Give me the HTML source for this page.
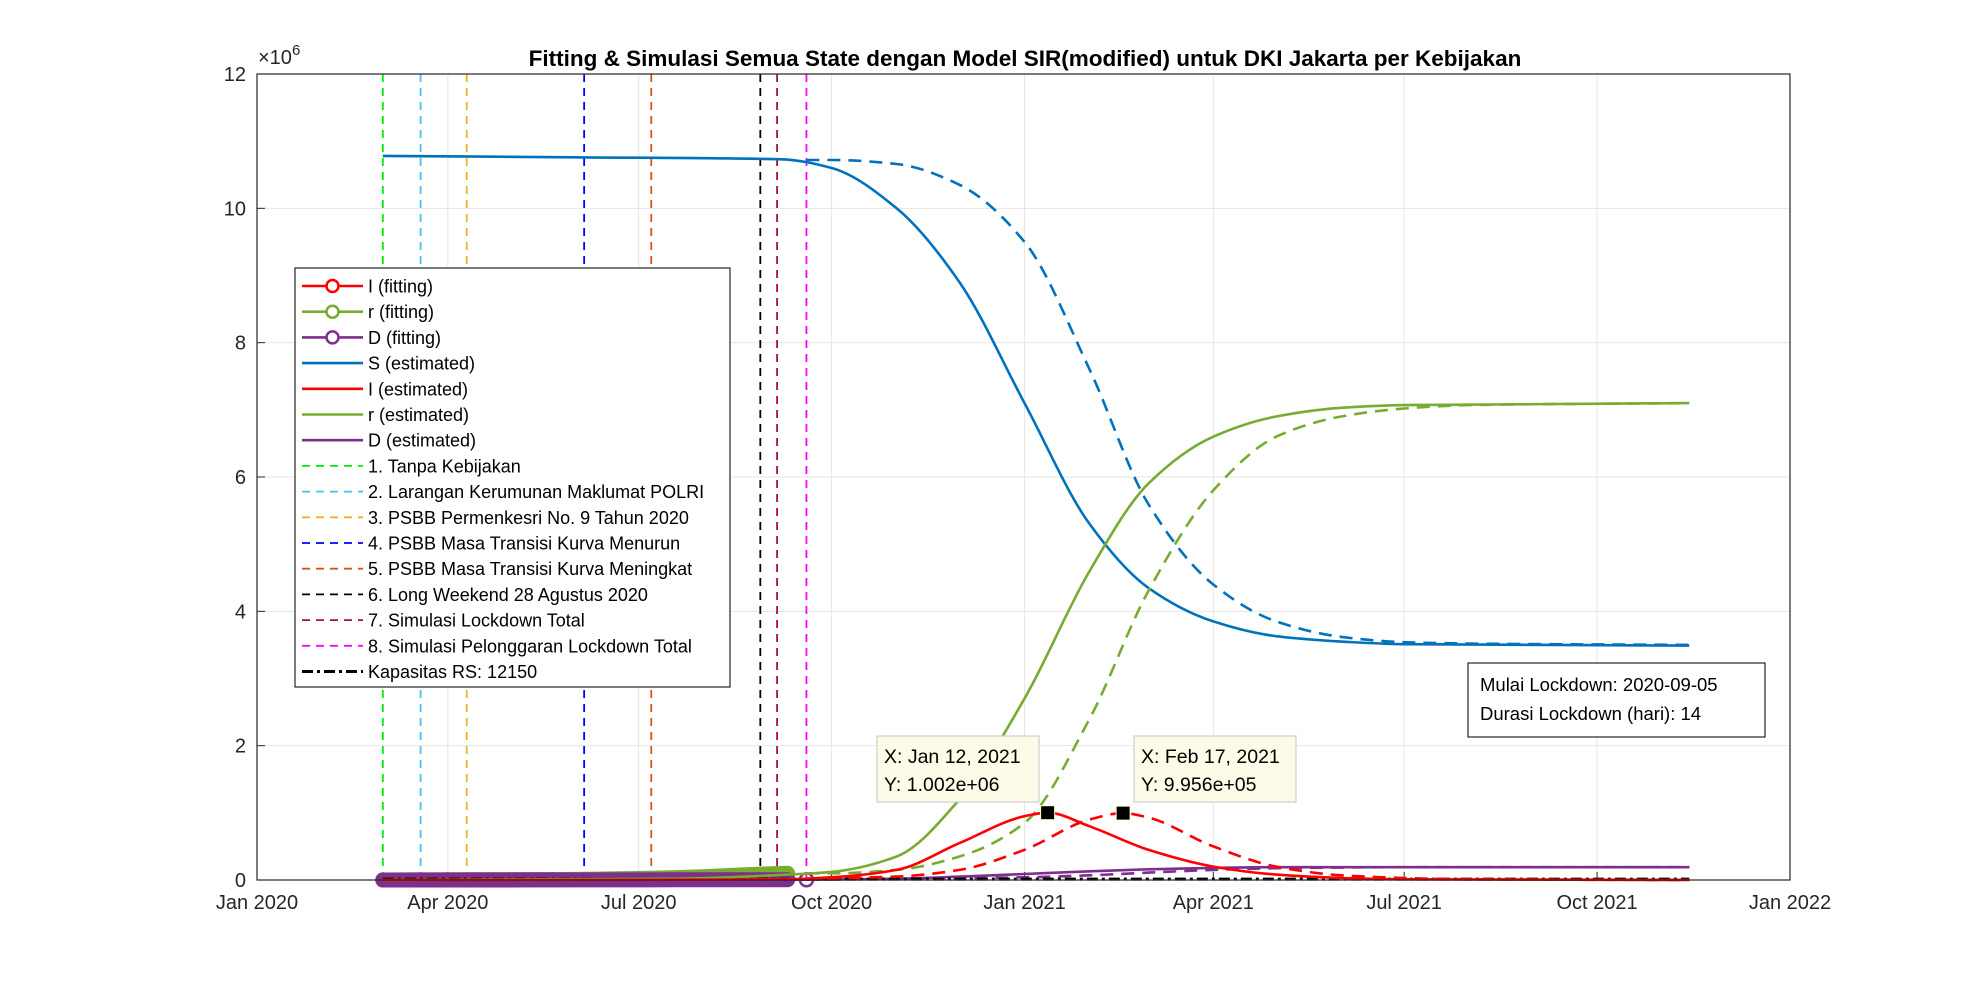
<!DOCTYPE html>
<html><head><meta charset="utf-8"><title>Fitting & Simulasi SIR DKI Jakarta</title>
<style>
html,body{margin:0;padding:0;background:#fff;}
svg{display:block;font-family:"Liberation Sans",Arial,sans-serif;}
</style></head>
<body>
<svg id="chart" width="1977" height="989" viewBox="0 0 1977 989">
  <rect x="0" y="0" width="1977" height="989" fill="#fff"/>
  <text x="1025" y="66" text-anchor="middle" font-size="22.5" font-weight="bold" fill="#000">Fitting &amp; Simulasi Semua State dengan Model SIR(modified) untuk DKI Jakarta per Kebijakan</text>
  <g id="grid"></g>
  <g id="axes"></g>
  <g id="vlines"></g>
  <g id="series"></g>
  <g id="frame"></g>
  <g id="legend"></g>
  <g id="tips"></g>
  <g>
    <rect x="1468" y="663" width="297" height="74" fill="#fff" stroke="#262626" stroke-width="1.2"/>
    <text x="1480" y="691" font-size="18.5" fill="#000">Mulai Lockdown: 2020-09-05</text>
    <text x="1480" y="720" font-size="18.5" fill="#000">Durasi Lockdown (hari): 14</text>
  </g>
</svg>
<script>
// ---- data (values in millions, x as day index from 2020-01-01) ----
const xTickLabels = ["Jan 2020","Apr 2020","Jul 2020","Oct 2020","Jan 2021","Apr 2021","Jul 2021","Oct 2021","Jan 2022"];
const xTickDays = [0,91,182,274,366,456,547,639,731];
const yTickValues = [0,2,4,6,8,10,12];

const fitDays = [60,74,88,102,116,130,144,158,172,186,200,214,228,242,253];
const fitI = [0,0.001,0.002,0.003,0.004,0.005,0.006,0.007,0.008,0.009,0.01,0.011,0.011,0.012,0.011];
const fitR = [0,0,0.001,0.002,0.003,0.005,0.008,0.012,0.018,0.026,0.036,0.05,0.07,0.09,0.1];
const fitD = [0,0,0,0,0.0005,0.001,0.001,0.0015,0.002,0.002,0.0025,0.003,0.003,0.003,0.004];

const sDays = [60,150,250,274,305,335,366,397,425,456,486,517,547,683];
const sVals = [10.78,10.76,10.73,10.6,10.0,8.9,7.1,5.3,4.35,3.85,3.63,3.55,3.51,3.49];
const iDays = [60,200,253,274,305,335,366,377,397,425,456,486,517,547,683];
const iVals = [0,0.005,0.012,0.04,0.15,0.55,0.95,1.002,0.8,0.45,0.2,0.08,0.03,0.01,0];
const rDays = [60,200,253,274,305,335,366,397,425,456,486,517,547,683];
const rVals = [0,0.02,0.08,0.12,0.35,1.2,2.7,4.6,5.9,6.6,6.9,7.03,7.07,7.1];
const dDays = [60,253,274,305,335,366,397,425,456,486,683];
const dVals = [0,0.004,0.008,0.02,0.05,0.09,0.13,0.16,0.18,0.19,0.19];

const sDashDays = [262,274,305,335,366,397,425,456,486,517,547,578,683];
const sDashVals = [10.72,10.72,10.66,10.35,9.5,7.6,5.6,4.4,3.85,3.62,3.54,3.52,3.5];
const iDashDays = [262,305,335,366,397,413,425,456,486,517,547,578,683];
const iDashVals = [0.02,0.05,0.15,0.45,0.9,0.9956,0.93,0.5,0.2,0.07,0.03,0.01,0];
const rDashDays = [262,274,305,335,366,397,425,456,486,517,547,578,683];
const rDashVals = [0.1,0.1,0.15,0.35,0.85,2.4,4.3,5.8,6.6,6.9,7.02,7.07,7.1];
const dDashDays = [262,305,335,366,397,425,456,486,517,547,683];
const dDashVals = [0.005,0.015,0.025,0.04,0.07,0.11,0.15,0.175,0.185,0.19,0.19];

const capacityDays = [60,683];
const capacityVals = [0.01215,0.01215];

const policyDays = [60,78,100,156,188,240,248,262];
const policyColors = ["#00ee00","#4dbeee","#edb120","#0000ff","#d95319","#000000","#a2142f","#ff00ff"];
const policyLabels = ["1. Tanpa Kebijakan","2. Larangan Kerumunan Maklumat POLRI","3. PSBB Permenkesri No. 9 Tahun 2020","4. PSBB Masa Transisi Kurva Menurun","5. PSBB Masa Transisi Kurva Meningkat","6. Long Weekend 28 Agustus 2020","7. Simulasi Lockdown Total","8. Simulasi Pelonggaran Lockdown Total"];

const tipDays = [377,413];
const tipVals = [1.002,0.9956];
const tipXText = ["X: Jan 12, 2021","X: Feb 17, 2021"];
const tipYText = ["Y: 1.002e+06","Y: 9.956e+05"];

// ---- axis functions ----
const L=257,R=1790,T=74,B=880;
const xS = d => L + d*(R-L)/731;
const yS = v => B - v*(B-T)/12;
const NS="http://www.w3.org/2000/svg";
function mk(tag, attrs, parent){const e=document.createElementNS(NS,tag);for(const k in attrs)e.setAttribute(k,attrs[k]);parent.appendChild(e);return e;}

function monotonePath(days, vals){
  const xs=days.map(xS), ys=vals.map(yS), n=xs.length;
  if(n<3){return "M"+xs.map((x,i)=>x.toFixed(1)+","+ys[i].toFixed(1)).join("L");}
  const dx=[],m=[],t=new Array(n);
  for(let i=0;i<n-1;i++){dx.push(xs[i+1]-xs[i]);m.push((ys[i+1]-ys[i])/dx[i]);}
  t[0]=m[0];t[n-1]=m[n-2];
  for(let i=1;i<n-1;i++){ if(m[i-1]*m[i]<=0) t[i]=0; else { const w1=2*dx[i]+dx[i-1], w2=dx[i]+2*dx[i-1]; t[i]=(w1+w2)/(w1/m[i-1]+w2/m[i]); } }
  let p="M"+xs[0].toFixed(1)+","+ys[0].toFixed(1);
  for(let i=0;i<n-1;i++){const h=dx[i]/3;
    p+="C"+(xs[i]+h).toFixed(1)+","+(ys[i]+t[i]*h).toFixed(1)+" "+(xs[i+1]-h).toFixed(1)+","+(ys[i+1]-t[i+1]*h).toFixed(1)+" "+xs[i+1].toFixed(1)+","+ys[i+1].toFixed(1);}
  return p;
}

const grid=document.getElementById('grid'), axes=document.getElementById('axes');
xTickDays.forEach((d,i)=>{
  const x=xS(d);
  if(i>0&&i<xTickDays.length-1){
    const g=mk('line',{x1:x,y1:T,x2:x,y2:B,stroke:"#e6e6e6","stroke-width":1},grid);
    
    
  }
  const tk=mk('line',{x1:x,y1:B,x2:x,y2:B-8,stroke:"#262626","stroke-width":1},axes);
  
  
  const tl=mk('text',{x:x,y:B+29,"text-anchor":"middle","font-size":20,fill:"#262626"},axes);
  tl.textContent=xTickLabels[i];
  
  
});
yTickValues.forEach(v=>{
  const y=yS(v);
  if(v>0&&v<12){
    const g=mk('line',{x1:L,y1:y,x2:R,y2:y,stroke:"#e6e6e6","stroke-width":1},grid);
    
    
  }
  const tk=mk('line',{x1:L,y1:y,x2:L+8,y2:y,stroke:"#262626","stroke-width":1},axes);
  
  
  const tl=mk('text',{x:L-11,y:y+7,"text-anchor":"end","font-size":20,fill:"#262626"},axes);
  tl.textContent=String(v);
  
  
});
const ex=mk('text',{x:L+1,y:T-10,"font-size":20,fill:"#262626"},axes);
ex.innerHTML='\u00d710<tspan dy="-9" font-size="15">6</tspan>';



// policy vertical lines
const vl=document.getElementById('vlines');
policyDays.forEach((d,i)=>{
  const l=mk('line',{x1:xS(d),y1:T,x2:xS(d),y2:B,stroke:policyColors[i],"stroke-width":1.8,"stroke-dasharray":"8 6"},vl);
  
  
});

const ser=document.getElementById('series');
function curve(days,vals,color,dash,name){
  const a={d:monotonePath(days,vals),fill:"none",stroke:color,"stroke-width":2.6,"stroke-linejoin":"round"};
  if(dash) a["stroke-dasharray"]="13 8";
  const p=mk('path',a,ser);
  
  
}
function fitting(vals,color,name){
  const pts=fitDays.map((d,i)=>xS(d).toFixed(1)+","+yS(vals[i]).toFixed(1)).join(" ");
  const band=mk('polyline',{points:pts,fill:"none",stroke:color,"stroke-width":15,"stroke-linecap":"round","stroke-linejoin":"round"},ser);
  
  
  fitDays.forEach((d,i)=>{
    const c=mk('circle',{cx:xS(d),cy:yS(vals[i]),r:6,fill:"none",stroke:color,"stroke-width":2.5},ser);
    
    
  });
}
fitting(fitI,"#ff0000","i-fitting");
fitting(fitR,"#77ac30","r-fitting");
fitting(fitD,"#7e2f8e","d-fitting");
const lastC=mk('circle',{cx:xS(262),cy:yS(0.003),r:6.5,fill:"none",stroke:"#7e2f8e","stroke-width":2.5},ser);



curve(dDays,dVals,"#7e2f8e",false,"d-estimated");
curve(dDashDays,dDashVals,"#7e2f8e",true,"d-simulated");
const cap=mk('line',{x1:xS(capacityDays[0]),y1:yS(capacityVals[0]),x2:xS(capacityDays[1]),y2:yS(capacityVals[1]),stroke:"#000","stroke-width":3,"stroke-dasharray":"11 4 3 4"},ser);


curve(sDays,sVals,"#0072bd",false,"s-estimated");
curve(sDashDays,sDashVals,"#0072bd",true,"s-simulated");
curve(rDays,rVals,"#77ac30",false,"r-estimated");
curve(rDashDays,rDashVals,"#77ac30",true,"r-simulated");
curve(iDays,iVals,"#ff0000",false,"i-estimated");
curve(iDashDays,iDashVals,"#ff0000",true,"i-simulated");

// frame
const fr=mk('rect',{x:L,y:T,width:R-L,height:B-T,fill:"none",stroke:"#262626","stroke-width":1.2},document.getElementById('frame'));



// legend
const lg=document.getElementById('legend');
mk('rect',{x:295,y:268,width:435,height:419,fill:"#fff",stroke:"#262626","stroke-width":1.2},lg);
const legItems=[
 {t:"I (fitting)",c:"#ff0000",m:true},{t:"r (fitting)",c:"#77ac30",m:true},{t:"D (fitting)",c:"#7e2f8e",m:true},
 {t:"S (estimated)",c:"#0072bd"},{t:"I (estimated)",c:"#ff0000"},{t:"r (estimated)",c:"#77ac30"},{t:"D (estimated)",c:"#7e2f8e"}
];
policyLabels.forEach((t,i)=>legItems.push({t:t,c:policyColors[i],dash:true}));
legItems.push({t:"Kapasitas RS: 12150",c:"#000",dd:true});
legItems.forEach((it,i)=>{
  const y=286+i*25.7;
  const g=mk('g',{},lg);
  
  
  const a={x1:302,y1:y,x2:363,y2:y,stroke:it.c,"stroke-width":it.dd?3:(it.dash?1.8:2.6)};
  if(it.dash) a["stroke-dasharray"]="8 6";
  if(it.dd) a["stroke-dasharray"]="11 4 3 4";
  mk('line',a,g);
  if(it.m) mk('circle',{cx:332.5,cy:y,r:6,fill:"#fff",stroke:it.c,"stroke-width":2.5},g);
  const tx=mk('text',{x:368,y:y+6.5,"font-size":18,fill:"#000"},g);
  tx.textContent=it.t;
});

// data tips
const tips=document.getElementById('tips');
const boxX=[877,1134];
tipDays.forEach((d,i)=>{
  const g=mk('g',{},tips);
  
  
  mk('rect',{x:boxX[i],y:736,width:162,height:66,fill:"#fbfbe8",stroke:"#cfcfcf","stroke-width":1.2},g);
  const t1=mk('text',{x:boxX[i]+7,y:763,"font-size":19.5,fill:"#000"},g); t1.textContent=tipXText[i];
  const t2=mk('text',{x:boxX[i]+7,y:791,"font-size":19.5,fill:"#000"},g); t2.textContent=tipYText[i];
  mk('rect',{x:xS(d)-7,y:yS(tipVals[i])-7,width:14,height:14,fill:"#000",stroke:"#ffffd0","stroke-width":1},g);
});
</script>
</body></html>
